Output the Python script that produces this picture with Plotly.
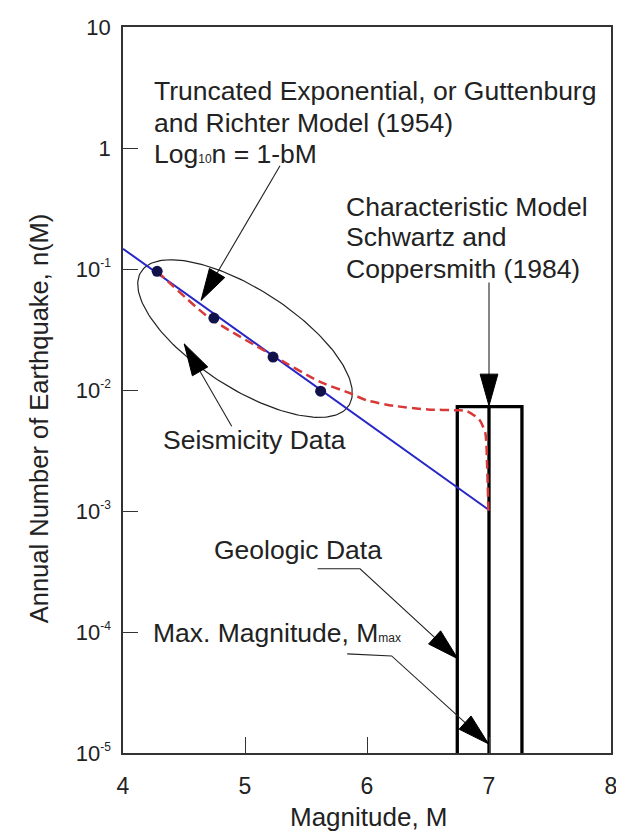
import numpy as np
import plotly.graph_objects as go

# ---------------- data ----------------
seis_M = [4.28, 4.745, 5.23, 5.62]
seis_n = [0.0957, 0.0393, 0.0187, 0.00977]

gr_M = [4.0, 7.0]
gr_n = [0.147, 0.00102]

char_M = [4.28, 4.70, 5.22, 5.62, 5.85, 6.00, 6.22, 6.50, 6.75, 6.82, 6.92, 6.97, 6.985, 6.995]
char_n = [0.0957, 0.040, 0.0195, 0.0116, 0.0095, 0.0082, 0.0074, 0.0069, 0.0068, 0.0067, 0.0057, 0.0044, 0.0023, 0.00098]

box_M = [6.74, 7.27]
box_top = 0.0073
box_bottom = 1e-5
m_max = 7.0

x_ticks = [4, 5, 6, 7, 8]
y_ticks = [10, 1, 0.1, 0.01, 0.001, 1e-4, 1e-5]
y_tick_text = ["10", "1"] + [
    '10<sup><span style="font-size:12px">-%d</span></sup>' % k for k in range(1, 6)
]

# annotation geometry (data coordinates; last point is arrow tip)
arrows = [
    [(5.287, 0.714), (4.640, 0.0551)],
    [(4.891, 0.00502), (4.502, 0.02404)],
    [(7.0, 0.0773), (7.0, 0.0074)],
    [(5.595, 3.33e-4), (5.943, 3.33e-4), (6.745, 6.0e-5)],
    [(5.838, 6.59e-5), (6.202, 6.34e-5), (6.996, 1.19e-5)],
]
labels = [
    ("Truncated Exponential, or Guttenburg", 4.235, 2.94),
    ("and Richter Model (1954)", 4.235, 1.616),
    ("Log<span style=\"font-size:12px\">10</span>n = 1-bM", 4.235, 0.896),
    ("Characteristic Model", 5.815, 0.326),
    ("Schwartz and", 5.815, 0.184),
    ("Coppersmith (1984)", 5.815, 0.1),
    ("Seismicity Data", 4.31, 0.00388),
    ("Geologic Data", 4.73, 4.76e-4),
    ("Max. Magnitude, M<span style=\"font-size:12px\">max</span>", 4.23, 9.84e-5),
]

# ---------------- layout constants ----------------
OFF = 8                      # browser body margin
W, H = 624 - OFF, 835 - OFF
L, R, T, B = 123 - OFF, 617 - OFF, 20 - OFF, 753 - OFF
XR = [4, 8]
YR = [-5, 1]
FONT = "Liberation Sans, Arial, sans-serif"
TXT = "#222222"


def to_px(x, y):
    return (L + (x - XR[0]) / (XR[1] - XR[0]) * (R - L),
            T + (YR[1] - np.log10(y)) / (YR[1] - YR[0]) * (B - T))


def to_data(px, py):
    return (XR[0] + (px - L) / (R - L) * (XR[1] - XR[0]),
            10 ** (YR[1] - (py - T) / (B - T) * (YR[1] - YR[0])))


fig = go.Figure()

# ellipse around seismicity data (screen-space ellipse)
cx, cy = to_px(5.0, 10 ** -1.575)
a_e, b_e, phi = 125.0, 50.0, np.radians(32.7)
t = np.linspace(0, 2 * np.pi, 200)
ex = cx + a_e * np.cos(t) * np.cos(phi) - b_e * np.sin(t) * np.sin(phi)
ey = cy + a_e * np.cos(t) * np.sin(phi) + b_e * np.sin(t) * np.cos(phi)
ed = [to_data(px, py) for px, py in zip(ex, ey)]
fig.add_trace(go.Scatter(x=[d[0] for d in ed], y=[d[1] for d in ed], mode="lines",
                         line=dict(color="#222222", width=1.2), hoverinfo="skip"))

# characteristic model box
fig.add_trace(go.Scatter(
    x=[box_M[0], box_M[0], box_M[1], box_M[1]],
    y=[box_bottom, box_top, box_top, box_bottom],
    mode="lines", line=dict(color="black", width=3.3)))
fig.add_trace(go.Scatter(x=[m_max, m_max], y=[box_bottom, box_top], mode="lines",
                         line=dict(color="black", width=3.3)))

# Gutenberg-Richter line
fig.add_trace(go.Scatter(x=gr_M, y=gr_n, mode="lines",
                         line=dict(color="#2727c8", width=2)))

# characteristic model curve
fig.add_trace(go.Scatter(x=char_M, y=char_n, mode="lines",
                         line=dict(color="#d83838", width=2.5, dash="9px,5px",
                                   shape="spline", smoothing=0.6)))

# seismicity data points
fig.add_trace(go.Scatter(x=seis_M, y=seis_n, mode="markers",
                         marker=dict(color="#12124a", size=11)))

# arrows: leader lines + filled heads
for pts in arrows:
    fig.add_trace(go.Scatter(x=[p[0] for p in pts], y=[p[1] for p in pts], mode="lines",
                             line=dict(color="#222222", width=1.1), hoverinfo="skip"))
    (x1, y1), (x2, y2) = pts[-2], pts[-1]
    p1 = np.array(to_px(x1, y1))
    p2 = np.array(to_px(x2, y2))
    d = (p2 - p1) / np.linalg.norm(p2 - p1)
    n = np.array([-d[1], d[0]])
    hl, hw = 32.0, 9.0
    base = p2 - d * hl
    tri = [p2, base + n * hw, base - n * hw, p2]
    td = [to_data(q[0], q[1]) for q in tri]
    fig.add_trace(go.Scatter(x=[q[0] for q in td], y=[q[1] for q in td], mode="lines",
                             fill="toself", fillcolor="black",
                             line=dict(color="black", width=1), hoverinfo="skip"))

annotations = []
for text, x, y in labels:
    annotations.append(dict(text=text, x=x, y=np.log10(y), xref="x", yref="y",
                            xanchor="left", yanchor="middle", showarrow=False,
                            font=dict(family=FONT, size=26.5, color=TXT)))
annotations.append(dict(text="Annual Number of Earthquake, n(M)", xref="paper", yref="paper",
                        x=(38 - 123) / 494, y=(753 - 415) / 733, textangle=-90,
                        xanchor="center", yanchor="middle", showarrow=False,
                        font=dict(family=FONT, size=25.5, color=TXT)))
annotations.append(dict(text="Magnitude, M", xref="paper", yref="paper",
                        x=(372 - 123) / 494, y=(753 - 818) / 733,
                        xanchor="center", yanchor="middle", showarrow=False,
                        font=dict(family=FONT, size=26, color=TXT)))

fig.update_layout(
    width=W, height=H, margin=dict(l=L, r=W - R, t=T, b=H - B),
    paper_bgcolor="white", plot_bgcolor="white", showlegend=False,
    annotations=annotations,
    xaxis=dict(range=XR, tickvals=x_ticks, ticks="inside", ticklen=16, tickwidth=1.2,
               tickcolor="#333333", showline=True, linecolor="#333333", linewidth=1.5,
               mirror=True, showgrid=False, zeroline=False, ticklabelstandoff=12,
               ticklabeloverflow="allow",
               tickfont=dict(family=FONT, size=23, color=TXT)),
    yaxis=dict(type="log", range=YR, tickvals=y_ticks, ticktext=y_tick_text,
               ticks="inside", ticklen=15, tickwidth=1.2, tickcolor="#333333",
               showline=True, linecolor="#333333", linewidth=1.5, mirror=True,
               showgrid=False, zeroline=False, ticklabelstandoff=6,
               ticklabeloverflow="allow",
               tickfont=dict(family=FONT, size=22, color=TXT)),
)

fig.write_html("out.html")
